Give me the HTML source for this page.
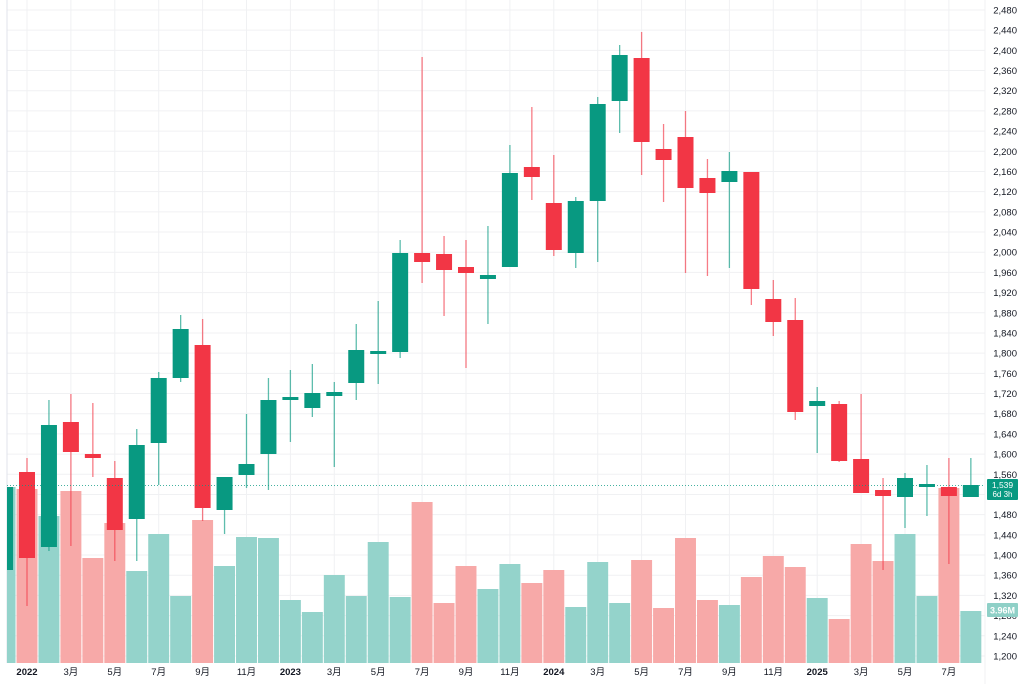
<!DOCTYPE html>
<html><head><meta charset="utf-8"><style>
html,body{margin:0;padding:0;background:#fff;width:1024px;height:684px;overflow:hidden}
svg text{font-family:"Liberation Sans","Noto Sans CJK SC",sans-serif}
</style></head><body>
<svg id="c" width="1024" height="684" xmlns="http://www.w3.org/2000/svg"></svg>
<script>
const S=document.getElementById('c');let h='';
const G='#089981',R='#f23645',VG='#94d3cb',VR='#f7a9a8';
for(let p=1200;p<=2480;p+=40){const y=656-(p-1200)*0.5047;h+=`<line x1="7" x2="985" y1="${y}" y2="${y}" stroke="#f0f1f3"/>`;h+=`<text x="1017" y="${y+3.5}" font-size="9.5" fill="#131722" text-anchor="end">${p.toLocaleString('en-US')}</text>`;}
const sp=21.95,x0=27;
const labs=[[0,'2022'],[2,'3月'],[4,'5月'],[6,'7月'],[8,'9月'],[10,'11月'],[12,'2023'],[14,'3月'],[16,'5月'],[18,'7月'],[20,'9月'],[22,'11月'],[24,'2024'],[26,'3月'],[28,'5月'],[30,'7月'],[32,'9月'],[34,'11月'],[36,'2025'],[38,'3月'],[40,'5月'],[42,'7月']];
for(const[i,t]of labs){const x=x0+sp*i;h+=`<line x1="${x}" x2="${x}" y1="0" y2="663" stroke="#f0f1f3"/>`;h+=`<text x="${x}" y="675" font-size="9.5" fill="#131722" text-anchor="middle" ${/^\d{4}$/.test(t)?'font-weight="bold"':''}>${t}</text>`;}
h+=`<line x1="7" x2="7" y1="0" y2="663" stroke="#e0e3eb"/>`;
const vol=[[487,'g'],[489,'r'],[516,'g'],[491,'r'],[558,'r'],[523,'r'],[571,'g'],[534,'g'],[596,'g'],[520,'r'],[566,'g'],[537,'g'],[538,'g'],[600,'g'],[612,'g'],[575,'g'],[596,'g'],[542,'g'],[597,'g'],[502,'r'],[603,'r'],[566,'r'],[589,'g'],[564,'g'],[583,'r'],[570,'r'],[607,'g'],[562,'g'],[603,'g'],[560,'r'],[608,'r'],[538,'r'],[600,'r'],[605,'g'],[577,'r'],[556,'r'],[567,'r'],[598,'g'],[619,'r'],[544,'r'],[561,'r'],[534,'g'],[596,'g'],[488,'r'],[611,'g']];
vol.forEach((v,k)=>{const i=k-1;let xl=x0+sp*i-sp/2+0.5,w=sp-1;if(xl<7){w-=7-xl;xl=7;}h+=`<rect x="${xl}" y="${v[0]}" width="${w}" height="${663-v[0]}" fill="${v[1]=='g'?VG:VR}"/>`;});
const c=[[487,570,487,570,'g'],[472,558,458,606,'r'],[425,547,400,551,'g'],[422,452,394,546,'r'],[454,458,403,477,'r'],[478,530,461,561,'r'],[445,519,429,561,'g'],[378,443,372,485,'g'],[329,378,315,382,'g'],[345,508,319,521,'r'],[477,510,477,534,'g'],[464,475,414,488,'g'],[400,454,378,490,'g'],[397,400,370,442,'g'],[393,408,364,417,'g'],[392,396,382,467,'g'],[350,383,324,400,'g'],[351,353,301,384,'g'],[253,352,240,358,'g'],[253,262,57,283,'r'],[254,270,236,316,'r'],[267,273,240,368,'r'],[275,279,226,324,'g'],[173,267,145,267,'g'],[167,177,107,200,'r'],[203,250,155,256,'r'],[201,253,197,268,'g'],[104,201,97,262,'g'],[55,101,45,133,'g'],[58,142,32,175,'r'],[149,160,124,202,'r'],[137,188,111,273,'r'],[178,193,159,276,'r'],[171,182,152,268,'g'],[172,289,172,305,'r'],[299,322,280,336,'r'],[320,412,298,420,'r'],[401,406,387,453,'g'],[404,461,401,462,'r'],[459,493,394,493,'r'],[490,496,478,570,'r'],[478,497,473,528,'g'],[484,487,465,516,'g'],[487,496,458,564,'r'],[485,497,458,497,'g']];
c.forEach((d,k)=>{const i=k-1,x=x0+sp*i,col=d[4]=='g'?G:R;
 if(k>0)h+=`<line x1="${x}" x2="${x}" y1="${d[2]}" y2="${d[3]}" stroke="${col}" stroke-opacity="0.65" stroke-width="1.3"/>`;
 let xl=x-8,w=16;if(xl<7){w-=7-xl;xl=7;}
 h+=`<rect x="${xl}" y="${d[0]}" width="${w}" height="${Math.max(d[1]-d[0],3)}" fill="${col}"/>`;});
h+=`<line x1="7" x2="985" y1="485.5" y2="485.5" stroke="${G}" stroke-dasharray="1,2" stroke-width="0.8"/>`;
h+=`<rect x="987" y="479" width="31" height="21" rx="1" fill="${G}"/><text x="1002.5" y="488" font-size="8.5" fill="#fff" text-anchor="middle">1,539</text><text x="1002.5" y="497" font-size="8" fill="#fff" text-anchor="middle">6d 3h</text>`;
h+=`<rect x="987" y="603" width="31" height="14" rx="1" fill="#8fd0c7"/><text x="1002.5" y="613.5" font-size="9" fill="#fff" font-weight="bold" text-anchor="middle">3.96M</text>`;
h+=`<line x1="985" x2="985" y1="0" y2="684" stroke="#f0f1f3"/>`;
S.innerHTML=h;
</script>
</body></html>
